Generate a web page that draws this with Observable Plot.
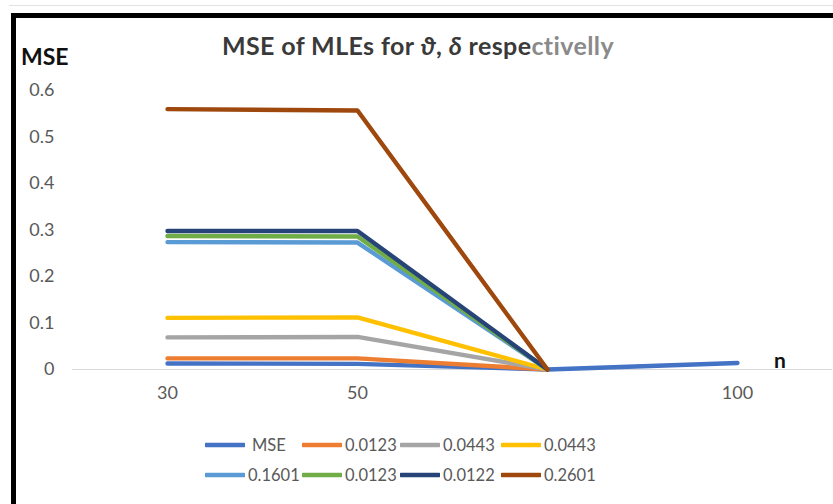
<!DOCTYPE html>
<html>
<head>
<meta charset="utf-8">
<script src="https://cdn.jsdelivr.net/npm/d3@7"></script>
<script src="https://cdn.jsdelivr.net/npm/@observablehq/plot@0.6"></script>
<style>
  html, body { margin: 0; padding: 0; background: #fff; }
  #chart { position: relative; width: 833px; height: 504px; overflow: hidden; background: #fff; font-family: Lato, "Open Sans", sans-serif; }
  .abs { position: absolute; }
  #title { left: 0; width: 836px; top: 30px; text-align: center; font-weight: 700; font-size: 25px; letter-spacing: 0.4px; color: #3a3a3a; white-space: nowrap; }
  #title .faint { color: #8a8a8a; }
  #ylab { left: 21px; top: 42px; font-weight: 700; font-size: 23px; color: #111; }
  #xlab { left: 774px; top: 347px; font-weight: 700; font-size: 21px; color: #111; }
  #plot { left: 0; top: 0; }
  .legend-item { position: absolute; display: flex; align-items: center; font-size: 16.5px; color: #595959; white-space: nowrap; }
  .legend-item svg { margin-right: 3px; }
</style>
</head>
<body>
<div id="chart">
  <div class="abs" style="left:9px; right:0; top:5px; height:1px; background:#e2e2e2"></div>
  <div id="plot" class="abs"></div>
  <div class="abs" style="left:11px; right:0; top:13px; height:5px; background:#000"></div>
  <div class="abs" style="left:11px; top:13px; width:5px; bottom:0; background:#000"></div>
  <div id="title" class="abs">MSE of MLEs for <i>ϑ</i>, <i>δ</i> respe<span class="faint">ctivelly</span></div>
  <div id="ylab" class="abs">MSE</div>
  <div id="xlab" class="abs">n</div>
  <div id="legend"></div>
</div>
<script>
// Sample sizes on the category axis (the third slot has no label)
const categories = ["30", "50", " ", "100"];

// Legend labels and colours of the eight series
const seriesLabels = ["MSE", "0.0123", "0.0443", "0.0443", "0.1601", "0.0123", "0.0122", "0.2601"];
const seriesColors = ["#4472C4", "#ED7D31", "#A5A5A5", "#FFC000", "#5B9BD5", "#70AD47", "#264478", "#9E480E"];

// MSE values per series at each category (null = no point)
const mseValues   = [0.013, 0.012, 0, 0.014];
const s0123a      = [0.024, 0.024, 0, null];
const s0443a      = [0.069, 0.070, 0, null];
const s0443b      = [0.111, 0.112, 0, null];
const s1601       = [0.274, 0.273, 0, null];
const s0123b      = [0.287, 0.286, 0, null];
const s0122       = [0.298, 0.298, 0, null];
const s2601       = [0.560, 0.557, 0, null];
const seriesValues = [mseValues, s0123a, s0443a, s0443b, s1601, s0123b, s0122, s2601];

// Y-axis ticks
const yTicks = [0, 0.1, 0.2, 0.3, 0.4, 0.5, 0.6];

const rowsFor = (i) => categories
  .map((c, j) => ({cat: c, value: seriesValues[i][j]}))
  .filter(d => d.value !== null);

const chart = Plot.plot({
  width: 833,
  height: 420,
  marginTop: 90,
  marginBottom: 51,
  marginLeft: 72,
  marginRight: 1,
  style: {fontFamily: "Lato, 'Open Sans', sans-serif", fontSize: "18px", background: "transparent"},
  x: {type: "point", domain: categories, padding: 0.5},
  y: {domain: [0, 0.6]},
  marks: [
    Plot.axisY({ticks: yTicks, tickSize: 0, tickPadding: 18, fill: "#595959",
      tickFormat: d => d === 0 ? "0" : d.toFixed(1), label: null}),
    Plot.axisX({tickSize: 0, tickPadding: 17, fill: "#595959", label: null}),
    Plot.ruleY([0], {stroke: "#d9d9d9", strokeWidth: 1}),
    ...seriesValues.map((_, i) => Plot.line(rowsFor(i), {
      x: "cat", y: "value", stroke: seriesColors[i], strokeWidth: 4.4,
      strokeLinejoin: "round", strokeLinecap: "round"
    }))
  ]
});
document.getElementById("plot").appendChild(chart);

// Legend: two rows of four line swatches
const legend = document.getElementById("legend");
const colX = [205, 302, 400, 501];
const rowY = [445, 475];
seriesLabels.forEach((label, i) => {
  const item = document.createElement("div");
  item.className = "legend-item";
  item.style.left = colX[i % 4] + "px";
  item.style.top = (rowY[Math.floor(i / 4)] - 11) + "px";
  item.style.height = "22px";
  const sw = d3.create("svg").attr("width", 40).attr("height", 8);
  sw.append("line").attr("x1", 1).attr("x2", 39).attr("y1", 4).attr("y2", 4)
    .attr("stroke", seriesColors[i]).attr("stroke-width", 4.4).attr("stroke-linecap", "round");
  item.appendChild(sw.node());
  const t = document.createElement("span");
  t.textContent = label;
  if (i === 0) t.style.marginLeft = "4px";
  item.appendChild(t);
  legend.appendChild(item);
});
</script>
</body>
</html>
